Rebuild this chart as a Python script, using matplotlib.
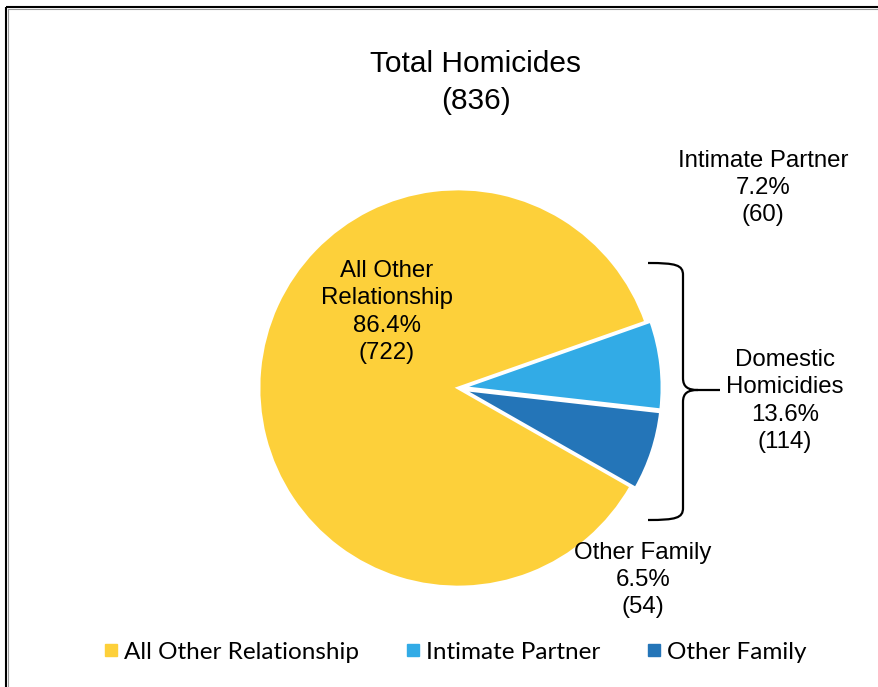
import matplotlib.pyplot as plt
from matplotlib.path import Path
from matplotlib.patches import PathPatch
from matplotlib.lines import Line2D

# Data
categories = ['All Other Relationship', 'Intimate Partner', 'Other Family']
counts = [722, 60, 54]
colors = ['#FDD03A', '#32ABE6', '#2475B8']
total = sum(counts)
domestic = counts[1] + counts[2]

W, H = 879, 687
fig = plt.figure(figsize=(W / 100, H / 100), dpi=100)
ax = fig.add_axes([0, 0, 1, 1])


def py(y):
    # pixel row (from top) -> data y
    return H - y


font = 'Liberation Sans'

# Pie (explode is in data units here, i.e. pixels)
ax.pie(counts, colors=colors, startangle=-29.7, counterclock=False,
       center=(458, py(388)), radius=199, explode=[0, 5, 5],
       wedgeprops=dict(edgecolor='white', linewidth=2), frame=True)
ax.set_xlim(0, W)
ax.set_ylim(0, H)
ax.set_aspect('equal')
ax.axis('off')

# Title
ax.text(476, py(64), 'Total Homicides', ha='center', va='center',
        fontsize=21.5, family=font)
ax.text(476, py(101), f'({total})', ha='center', va='center',
        fontsize=21.5, family=font)


def pct(v):
    return f'{100 * v / total:.1f}%'


lab_kw = dict(ha='center', va='center', fontsize=17.3, family=font,
              linespacing=1.3)
ax.text(387, py(312), f'All Other\nRelationship\n{pct(counts[0])}\n({counts[0]})', **lab_kw)
ax.text(763, py(188), f'Intimate Partner\n{pct(counts[1])}\n({counts[1]})', **lab_kw)
ax.text(785, py(401), f'Domestic\nHomicidies\n{pct(domestic)}\n({domestic})', **lab_kw)
ax.text(643, py(580), f'Other Family\n{pct(counts[2])}\n({counts[2]})', **lab_kw)

# Brace
verts = [
    (648, 263), (676, 263), (683, 265), (683, 275),
    (683, 378),
    (683, 387), (688, 390), (698, 390),
    (720, 390),
    (698, 390),
    (688, 390), (683, 393), (683, 402),
    (683, 508),
    (683, 518), (676, 520), (648, 520),
]
codes = [Path.MOVETO, Path.CURVE4, Path.CURVE4, Path.CURVE4,
         Path.LINETO,
         Path.CURVE4, Path.CURVE4, Path.CURVE4,
         Path.LINETO,
         Path.MOVETO,
         Path.CURVE4, Path.CURVE4, Path.CURVE4,
         Path.LINETO,
         Path.CURVE4, Path.CURVE4, Path.CURVE4]
brace = Path([(x, py(y)) for x, y in verts], codes)
ax.add_patch(PathPatch(brace, facecolor='none', edgecolor='black', lw=1.6))

# Frame (left and top edges)
ax.plot([6.5, 6.5], [py(6.5), -5], color='black', lw=1.5, solid_capstyle='butt')
ax.plot([6.5, W + 5], [py(6.5), py(6.5)], color='black', lw=1.5, solid_capstyle='butt')
ax.plot([8.5, 8.5], [py(8.5), -5], color='#9a9a9a', lw=0.8)
ax.plot([8.5, W + 5], [py(8.5), py(8.5)], color='#9a9a9a', lw=0.8)

# Legend
handles = [Line2D([], [], marker='s', linestyle='none', markersize=8.5,
                  markerfacecolor=c, markeredgecolor=c) for c in colors]
fig.legend(handles, categories, loc='center', bbox_to_anchor=(455 / W, 1 - 652 / H),
           ncol=3, frameon=False, handlelength=0.6, handletextpad=0.25,
           columnspacing=1.9, prop=dict(family='Lato', size=17.5))

fig.savefig('out.png', dpi=100)
